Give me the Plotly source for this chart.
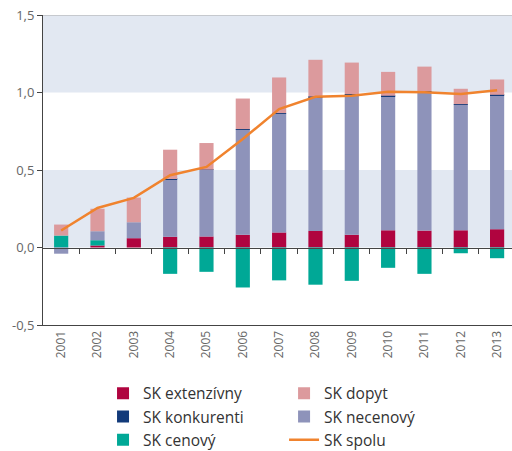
import plotly.graph_objects as go

years = ["2001", "2002", "2003", "2004", "2005", "2006", "2007",
         "2008", "2009", "2010", "2011", "2012", "2013"]
extenzivny = [0.0, 0.013, 0.06, 0.069, 0.071, 0.082, 0.097, 0.107, 0.082, 0.111, 0.109, 0.111, 0.118]
cenovy = [0.077, 0.034, 0.0, -0.17, -0.157, -0.258, -0.212, -0.24, -0.215, -0.131, -0.17, -0.037, -0.069]
necenovy = [-0.04, 0.058, 0.103, 0.368, 0.429, 0.677, 0.765, 0.863, 0.905, 0.865, 0.896, 0.809, 0.864]
konkurenti = [0.0, 0.0, 0.0, 0.005, 0.002, 0.005, 0.005, 0.004, 0.003, 0.003, 0.004, 0.005, 0.003]
dopyt = [0.071, 0.145, 0.159, 0.189, 0.172, 0.197, 0.23, 0.237, 0.203, 0.154, 0.158, 0.099, 0.099]
spolu = [0.11, 0.255, 0.32, 0.466, 0.52, 0.70, 0.893, 0.972, 0.979, 1.005, 1.002, 0.99, 1.015]

y_ticks = [-0.5, 0.0, 0.5, 1.0, 1.5]
y_ticktext = ["-0,5", "0,0", "0,5", "1,0", "1,5"]

xpos = list(range(len(years)))
boundaries = [i + 0.5 for i in range(len(years) - 1)]

C_EXT = "#b0043f"
C_KON = "#123a7a"
C_CEN = "#00a896"
C_NEC = "#8e93ba"
C_DOP = "#dc9a9d"
C_SPO = "#f0832e"

fig = go.Figure()

def bar(name, vals, color, legend, rank):
    fig.add_trace(go.Bar(x=xpos, y=vals, name=name, marker=dict(color=color, line=dict(width=0)),
                         legend=legend, legendrank=rank))

bar("SK extenzívny", extenzivny, C_EXT, "legend", 1)
bar("SK cenový", cenovy, C_CEN, "legend", 3)
bar("SK necenový", necenovy, C_NEC, "legend2", 2)
bar("SK konkurenti", konkurenti, C_KON, "legend", 2)
bar("SK dopyt", dopyt, C_DOP, "legend2", 1)
fig.add_trace(go.Scatter(x=xpos, y=spolu, name="SK spolu", mode="lines",
                         line=dict(color=C_SPO, width=2.5), legend="legend2", legendrank=3))
# helper trace so the zero-line axis (with boundary ticks) is drawn
fig.add_trace(go.Scatter(x=[0], y=[0], xaxis="x2", mode="none", showlegend=False, hoverinfo="skip"))

font_fam = "Open Sans, Noto Sans, sans-serif"
xr = [-0.5, 12.41]

fig.update_layout(
    width=512, height=451,
    margin=dict(l=43, r=0, t=15, b=126, autoexpand=False),
    paper_bgcolor="white", plot_bgcolor="white",
    barmode="relative", bargap=0.61,
    font=dict(family=font_fam, size=12, color="#555"),
    xaxis=dict(range=xr, tickvals=xpos, ticktext=years, tickangle=-90, automargin=False,
               showline=True, linecolor="#444", linewidth=1, ticks="", showgrid=False,
               zeroline=False, tickfont=dict(size=12, color="#666")),
    xaxis2=dict(range=xr, overlaying="x", anchor="free", position=0.25, automargin=False,
                tickvals=boundaries, ticks="outside", ticklen=5, tickcolor="#444",
                showticklabels=False, showline=True, linecolor="#444", linewidth=1,
                showgrid=False, zeroline=False),
    yaxis=dict(range=[-0.5, 1.5], tickvals=y_ticks, ticktext=y_ticktext, ticks="outside",
               ticklen=5, tickcolor="#444", showline=True, linecolor="#444", linewidth=1,
               automargin=False, showgrid=False, zeroline=False,
               tickfont=dict(size=13, color="#666")),
    shapes=[
        dict(type="rect", xref="paper", yref="y", x0=0, x1=1, y0=0, y1=0.5,
             fillcolor="#e2e8f2", line=dict(width=0), layer="below"),
        dict(type="rect", xref="paper", yref="y", x0=0, x1=1, y0=1.0, y1=1.5,
             fillcolor="#e2e8f2", line=dict(width=0), layer="below"),
        dict(type="line", xref="paper", yref="y", x0=0, x1=1, y0=1.5, y1=1.5,
             line=dict(color="#aaaaaa", width=1)),
    ],
    legend=dict(x=0.128, y=-0.167, xanchor="left", yanchor="top", orientation="v",
                font=dict(size=15.5, color="#333"), bgcolor="rgba(0,0,0,0)"),
    legend2=dict(x=0.514, y=-0.167, xanchor="left", yanchor="top", orientation="v",
                 font=dict(size=15.5, color="#333"), bgcolor="rgba(0,0,0,0)"),
    showlegend=True,
)

fig.write_html("out.html", config={"displayModeBar": False},
               post_script="document.body.style.margin='0px';document.body.style.overflow='hidden';")
